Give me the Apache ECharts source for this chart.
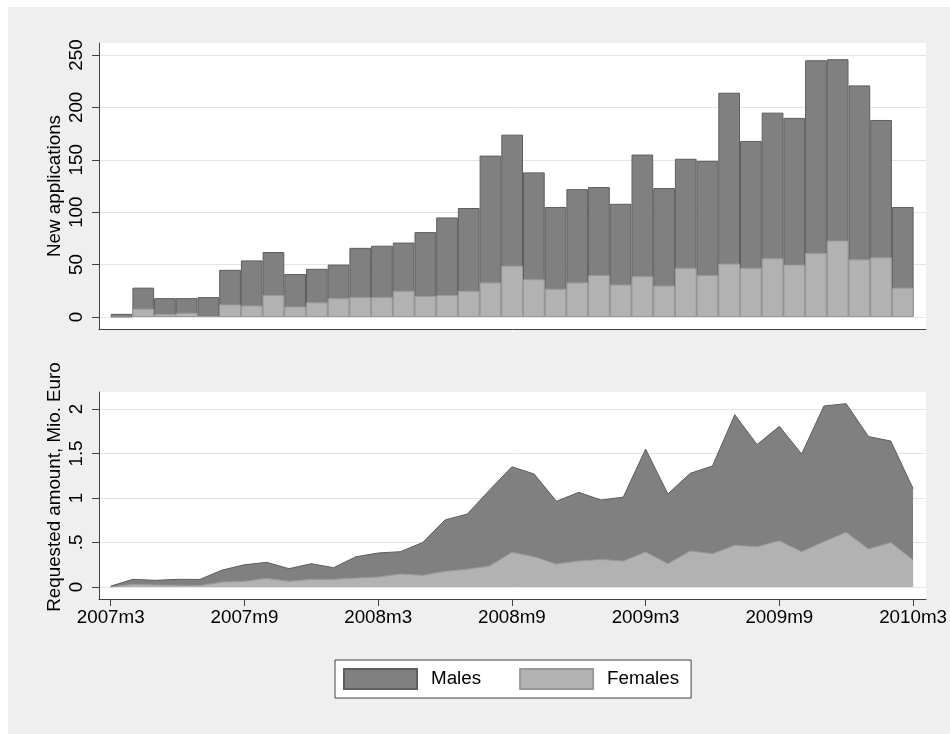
<!DOCTYPE html>
<html>
<head>
<meta charset="utf-8">
<script src="https://cdn.jsdelivr.net/npm/echarts@6/dist/echarts.min.js"></script>
<style>
html,body{margin:0;padding:0;background:#ffffff;}
#chart{position:absolute;left:8px;top:7px;width:942px;height:727px;background:#efefef;}
</style>
</head>
<body>
<div id="chart"></div>
<script>
// Months 2007m3 .. 2010m3
const months = ["2007m3","2007m4","2007m5","2007m6","2007m7","2007m8","2007m9","2007m10","2007m11","2007m12",
  "2008m1","2008m2","2008m3","2008m4","2008m5","2008m6","2008m7","2008m8","2008m9","2008m10","2008m11","2008m12",
  "2009m1","2009m2","2009m3","2009m4","2009m5","2009m6","2009m7","2009m8","2009m9","2009m10","2009m11","2009m12",
  "2010m1","2010m2","2010m3"];
const xTickLabels = ["2007m3","2007m9","2008m3","2008m9","2009m3","2009m9","2010m3"];
const appsTotal = [3,28,18,18,19,45,54,62,41,46,50,66,68,71,81,95,104,154,174,138,105,122,124,108,155,123,151,149,214,168,195,190,245,246,221,188,105];
const appsFemales = [0,8,3,4,1,12,11,21,10,14,18,19,19,25,20,21,25,33,49,36,27,33,40,31,39,30,47,40,51,47,56,50,61,73,55,57,28];
const amountTotal = [0.01,0.086,0.075,0.086,0.085,0.19,0.25,0.277,0.206,0.262,0.217,0.34,0.382,0.397,0.50,0.753,0.82,1.09,1.35,1.27,0.963,1.064,0.977,1.01,1.55,1.045,1.277,1.36,1.936,1.60,1.805,1.494,2.034,2.06,1.69,1.64,1.105];
const amountFemales = [0.0,0.03,0.022,0.02,0.015,0.056,0.064,0.097,0.064,0.086,0.086,0.10,0.112,0.146,0.131,0.176,0.20,0.236,0.39,0.34,0.258,0.292,0.31,0.292,0.393,0.262,0.404,0.375,0.468,0.453,0.52,0.397,0.51,0.614,0.427,0.50,0.303];
const appsTicks = [0,50,100,150,200,250];
const amountTicks = [0,0.5,1,1.5,2];

const FONT = '"Liberation Sans", Arial, Helvetica, sans-serif';
const FS = 18.8;
const AX = '#404040';
const DARK = '#808080', DARK_B = '#5e5e5e';
const LIGHT = '#b2b2b2', LIGHT_B = '#999999';

const xTickIdx = xTickLabels.map(l => months.indexOf(l));
const pairs = arr => arr.map((v, i) => [i, v]);

const chart = echarts.init(document.getElementById('chart'), null, {renderer: 'canvas'});

const hiddenAxis = {show: true, axisLine: {show: false, onZero: false}, axisTick: {show: false}, axisLabel: {show: false}, splitLine: {show: false}};

chart.setOption({
  animation: false,
  backgroundColor: '#efefef',
  textStyle: {fontFamily: FONT},
  grid: [
    // 0: top frame
    {left: 91, top: 36, width: 827, height: 286, show: true, backgroundColor: '#ffffff', borderWidth: 0},
    // 1: top data
    {left: 91, top: 48, width: 827, height: 262, show: false},
    // 2: bottom frame
    {left: 91, top: 385, width: 827, height: 207, show: true, backgroundColor: '#ffffff', borderWidth: 0},
    // 3: bottom data
    {left: 91, top: 402, width: 827, height: 178, show: false}
  ],
  xAxis: [
    {gridIndex: 0, type: 'value', min: 0, max: 1, axisLine: {show: true, onZero: false, lineStyle: {color: AX, width: 1}}, axisTick: {show: false}, axisLabel: {show: false}, splitLine: {show: false}},
    Object.assign({gridIndex: 1, type: 'value', min: -1.039, max: 37.071}, hiddenAxis),
    {gridIndex: 2, type: 'value', min: 0, max: 1, axisLine: {show: true, onZero: false, lineStyle: {color: AX, width: 1}}, axisTick: {show: false}, axisLabel: {show: false}, splitLine: {show: false}},
    {gridIndex: 3, type: 'value', min: -0.525, max: 36.577, offset: 12,
      axisLine: {show: false, onZero: false},
      axisTick: {show: true, length: 7, customValues: xTickIdx, lineStyle: {color: AX, width: 1}},
      axisLabel: {show: true, customValues: xTickIdx, margin: 9, fontSize: FS, color: '#000', fontFamily: FONT,
        formatter: v => months[Math.round(v)] || ''},
      splitLine: {show: false}}
  ],
  yAxis: [
    {gridIndex: 0, type: 'value', min: 0, max: 1, axisLine: {show: true, onZero: false, lineStyle: {color: AX, width: 1}}, axisTick: {show: false}, axisLabel: {show: false}, splitLine: {show: false}},
    {gridIndex: 1, type: 'value', min: appsTicks[0], max: appsTicks[appsTicks.length - 1], interval: 50,
      name: 'New applications', nameLocation: 'middle', nameGap: 35, nameMoveOverlap: false,
      nameTextStyle: {fontSize: FS, color: '#000', fontFamily: FONT},
      axisLine: {show: false, onZero: false},
      axisTick: {show: true, length: 7, lineStyle: {color: AX, width: 1}},
      axisLabel: {show: true, rotate: 90, margin: 13, fontSize: FS, color: '#000', fontFamily: FONT},
      splitLine: {show: true, lineStyle: {color: '#e4e4e4', width: 1}}},
    {gridIndex: 2, type: 'value', min: 0, max: 1, axisLine: {show: true, onZero: false, lineStyle: {color: AX, width: 1}}, axisTick: {show: false}, axisLabel: {show: false}, splitLine: {show: false}},
    {gridIndex: 3, type: 'value', min: amountTicks[0], max: amountTicks[amountTicks.length - 1], interval: 0.5,
      name: 'Requested amount, Mio. Euro', nameLocation: 'middle', nameGap: 35, nameMoveOverlap: false,
      nameTextStyle: {fontSize: FS, color: '#000', fontFamily: FONT, padding: [0, 0, 0, 22]},
      axisLine: {show: false, onZero: false},
      axisTick: {show: true, length: 7, lineStyle: {color: AX, width: 1}},
      axisLabel: {show: true, rotate: 90, margin: 13, fontSize: FS, color: '#000', fontFamily: FONT,
        formatter: v => v === 0 ? '0' : String(v).replace(/^0\./, '.')},
      splitLine: {show: true, lineStyle: {color: '#e4e4e4', width: 1}}}
  ],
  legend: {
    left: 327, top: 653,
    orient: 'horizontal',
    data: [{name: 'Males', icon: 'rect'}, {name: 'Females', icon: 'rect'}],
    itemWidth: 73, itemHeight: 20, itemGap: 38,
    padding: [8, 12, 8, 8],
    backgroundColor: '#ffffff', borderColor: '#404040', borderWidth: 1,
    textStyle: {fontSize: FS, color: '#000', fontFamily: FONT, padding: [0, 0, 0, 9]}
  },
  series: [
    {name: 'Males', type: 'bar', xAxisIndex: 1, yAxisIndex: 1, data: pairs(appsTotal), barWidth: 21.7, barGap: '-100%',
      itemStyle: {color: DARK, borderColor: DARK_B, borderWidth: 1}},
    {name: 'Females', type: 'bar', xAxisIndex: 1, yAxisIndex: 1, data: pairs(appsFemales), barWidth: 21.7, barGap: '-100%',
      itemStyle: {color: LIGHT, borderColor: LIGHT_B, borderWidth: 1}},
    {name: 'Males', type: 'line', xAxisIndex: 3, yAxisIndex: 3, data: pairs(amountTotal), symbol: 'none', clip: false,
      lineStyle: {color: DARK_B, width: 1}, areaStyle: {color: DARK, opacity: 1}, itemStyle: {color: DARK}},
    {name: 'Females', type: 'line', xAxisIndex: 3, yAxisIndex: 3, data: pairs(amountFemales), symbol: 'none', clip: false,
      lineStyle: {color: LIGHT_B, width: 1}, areaStyle: {color: LIGHT, opacity: 1}, itemStyle: {color: LIGHT}}
  ]
});
</script>
</body>
</html>
